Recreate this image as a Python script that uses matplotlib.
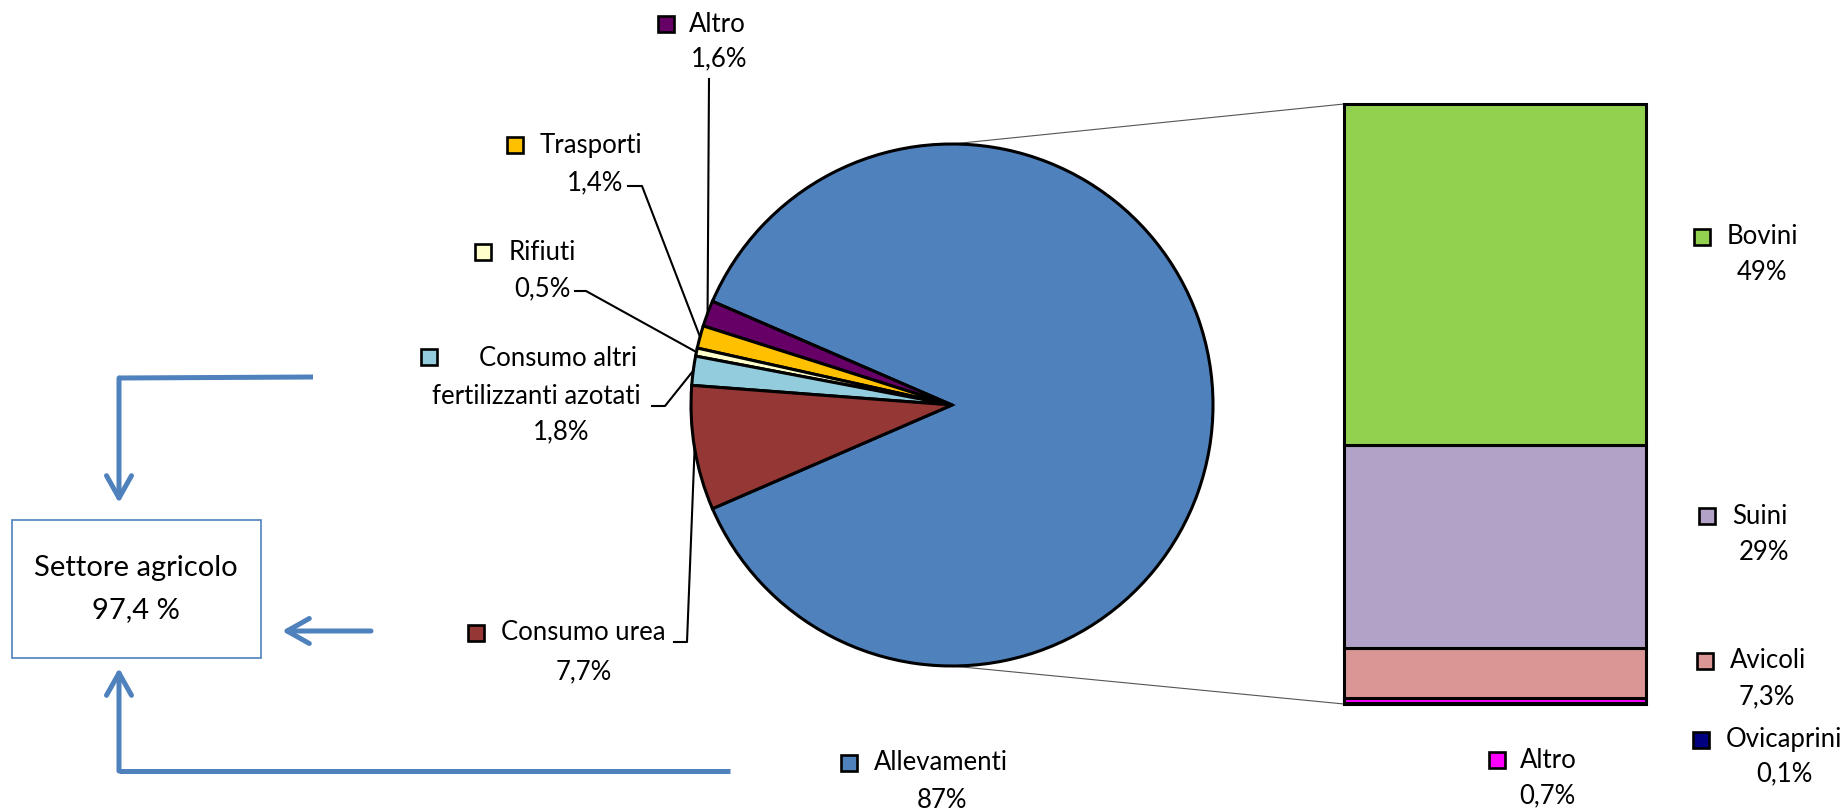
import matplotlib
matplotlib.use('Agg')
import matplotlib.pyplot as plt
import numpy as np

# ---------------- data ----------------
pie_labels = ['Allevamenti', 'Altro', 'Trasporti', 'Rifiuti',
              'Consumo altri\nfertilizzanti azotati', 'Consumo urea']
pie_values = [87.0, 1.6, 1.4, 0.5, 1.8, 7.7]
pie_pct = ['87%', '1,6%', '1,4%', '0,5%', '1,8%', '7,7%']
pie_colors = ['#4F81BD', '#660066', '#FFC000', '#FFFFCC', '#93CDDD', '#953735']

bar_labels = ['Bovini', 'Suini', 'Avicoli', 'Altro', 'Ovicaprini']
bar_values = [49.0, 29.0, 7.3, 0.7, 0.1]
bar_pct = ['49%', '29%', '7,3%', '0,7%', '0,1%']
bar_colors = ['#92D050', '#B3A2C7', '#D99694', '#FF00FF', '#000080']

box_lines = ['Settore agricolo', '97,4 %']

# ---------------- layout ----------------
W, H = 1847, 811
plt.rcParams['font.family'] = ['Lato', 'DejaVu Sans']
FS = 18.5
BLUE = '#4F81BD'

fig = plt.figure(figsize=(W / 100, H / 100), dpi=100)
ax = fig.add_axes([0, 0, 1, 1])

def Y(y):
    return H - y

cx, cy, R = 952, Y(405), 261
total = sum(pie_values)
start = -pie_values[0] / total * 180.0
wedges, _ = ax.pie(pie_values, colors=pie_colors, center=(cx, cy), radius=R,
                   startangle=start, counterclock=True,
                   wedgeprops=dict(edgecolor='black', linewidth=2.2))
ax.set_xlim(0, W)
ax.set_ylim(0, H)
ax.set_aspect('auto')
ax.axis('off')

# mid-angle edge points for leaders
mids = []
acc = start
for v in pie_values:
    a = acc + v / total * 360.0 / 2
    mids.append((cx + R * np.cos(np.radians(a)), cy + R * np.sin(np.radians(a))))
    acc += v / total * 360.0

def square(x, y, color):
    ax.plot([x], [Y(y)], marker='s', markersize=11, markerfacecolor=color,
            markeredgecolor='black', markeredgewidth=1.9, zorder=5)

def txt(x, y, s, ha='left', fs=FS):
    ax.text(x, Y(y), s, ha=ha, va='center', fontsize=fs, color='black', zorder=5)

# pie labels: (square x,y), (name x), (pct x,y)
pie_pos = {
    1: dict(sq=(666, 24), nx=689, pct=(719, 59)),
    2: dict(sq=(515, 145), nx=540, pct=(595, 183)),
    3: dict(sq=(483, 252), nx=509, pct=(542, 289)),
    5: dict(sq=(476, 633), nx=501, pct=(584, 672)),
    0: dict(sq=(849, 763), nx=874, pct=(942, 801)),
}
for i, p in pie_pos.items():
    square(p['sq'][0], p['sq'][1], pie_colors[i])
    txt(p['nx'], p['sq'][1], pie_labels[i])
    txt(p['pct'][0], p['pct'][1], pie_pct[i], ha='center')

# Consumo altri (multi-line)
square(429, 357, pie_colors[4])
l1, l2 = pie_labels[4].split('\n')
txt(558, 359, l1, ha='center')
txt(536, 396, l2, ha='center')
txt(561, 432, pie_pct[4], ha='center')

# leader lines
lk = dict(color='black', lw=1.5, zorder=1)
ax.plot([709, mids[1][0]], [Y(79), mids[1][1]], **lk)
ax.plot([628, 642, mids[2][0]], [Y(186), Y(186), mids[2][1]], **lk)
ax.plot([575, 586, mids[3][0]], [Y(291), Y(291), mids[3][1]], **lk)
ax.plot([652, 665, mids[4][0]], [Y(406), Y(406), mids[4][1]], **lk)
ax.plot([674, 687, mids[5][0]], [Y(642), Y(642), mids[5][1]], **lk)

# bar of pie
bx0, by0, bw, bh = 1344, 104, 302, 600
bax = fig.add_axes([bx0 / W, (H - by0 - bh) / H, bw / W, bh / H])
bottom = 0.0
for v, c in zip(bar_values[::-1], bar_colors[::-1]):
    bax.bar(0, v, bottom=bottom, width=1.0, color=c, edgecolor='black',
            linewidth=2.2, clip_on=False)
    bottom += v
bax.set_xlim(-0.5, 0.5)
bax.set_ylim(0, sum(bar_values))
bax.axis('off')

# connector lines
ax.plot([cx, bx0], [cy + R, Y(by0)], color='#555555', lw=0.8, zorder=0)
ax.plot([cx, bx0], [cy - R, Y(by0 + bh)], color='#555555', lw=0.8, zorder=0)

# bar labels
bar_pos = [
    dict(sq=(1702, 237), nx=1727, pct=(1762, 272)),
    dict(sq=(1707, 516), nx=1732, pct=(1764, 553)),
    dict(sq=(1705, 661), nx=1730, pct=(1767, 697)),
    dict(sq=(1497, 760), nx=1520, pct=(1547, 796)),
    dict(sq=(1701, 740), nx=1726, pct=(1784, 774)),
]
for i, p in enumerate(bar_pos):
    square(p['sq'][0], p['sq'][1], bar_colors[i])
    txt(p['nx'], p['sq'][1], bar_labels[i])
    txt(p['pct'][0], p['pct'][1], bar_pct[i], ha='center')

# box with arrows
ax.add_patch(plt.Rectangle((12, Y(658)), 249, 138, fill=False,
                           edgecolor=BLUE, lw=1.2, zorder=3))
txt(136, 568, box_lines[0], ha='center', fs=21)
txt(136, 610, box_lines[1], ha='center', fs=21)

alw = 3.6
ap = dict(arrowstyle='->,head_length=0.8,head_width=0.45', color=BLUE, lw=alw,
          mutation_scale=20, shrinkA=0, shrinkB=0)
ax.plot([313, 119], [Y(377), Y(378)], color=BLUE, lw=alw, solid_capstyle='butt')
ax.annotate('', xy=(119, Y(503)), xytext=(119, Y(378)), arrowprops=ap)
ax.annotate('', xy=(282, Y(631)), xytext=(371, Y(631)), arrowprops=ap)
ax.plot([730, 119], [Y(771), Y(771)], color=BLUE, lw=alw, solid_capstyle='butt')
ax.annotate('', xy=(119, Y(668)), xytext=(119, Y(771)), arrowprops=ap)

fig.savefig('out.png', dpi=100, facecolor='white')
